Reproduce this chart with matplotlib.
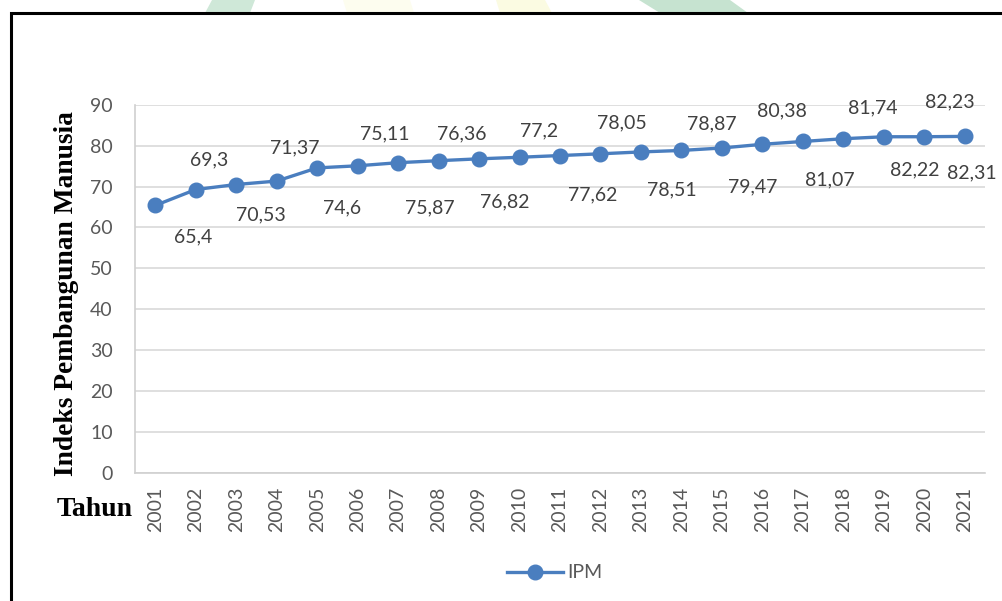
import matplotlib
matplotlib.use("Agg")
import matplotlib.pyplot as plt
from matplotlib.patches import Polygon, Rectangle

# Indeks Pembangunan Manusia (IPM), 2001-2021
years = [str(y) for y in range(2001, 2022)]
ipm = [65.4, 69.3, 70.53, 71.37, 74.6, 75.11, 75.87, 76.36, 76.82, 77.2,
       77.62, 78.05, 78.51, 78.87, 79.47, 80.38, 81.07, 81.74, 82.22, 82.23, 82.31]
value_labels = ["65,4", "69,3", "70,53", "71,37", "74,6", "75,11", "75,87",
                "76,36", "76,82", "77,2", "77,62", "78,05", "78,51", "78,87",
                "79,47", "80,38", "81,07", "81,74", "82,22", "82,23", "82,31"]
yticks = [0, 10, 20, 30, 40, 50, 60, 70, 80, 90]

# hand-placed label offsets (pixels) relative to each point
label_offsets = [(38, -31), (13, 30), (25, -30), (18, 33), (25, -40), (27, 32),
                 (32, -45), (23, 27), (26, -43), (20, 26), (33, -39), (21, 31),
                 (31, -38), (30, 27), (31, -39), (20, 33), (27, -38), (29, 31),
                 (31, -33), (26, 35), (7, -36)]

W, H = 1003, 601
fig = plt.figure(figsize=(W / 100, H / 100), dpi=100)
fig.patch.set_facecolor("white")

# faint letterhead shapes above the frame
shapes = [
    ([(212, 0), (255, 0), (250, 13), (205, 13)], "#cfe8d8"),
    ([(343, 0), (410, 0), (414, 13), (347, 13)], "#fdfdef"),
    ([(496, 0), (545, 0), (552, 13), (500, 13)], "#fbfbe2"),
    ([(639, 0), (730, 0), (748, 13), (660, 13)], "#c6e3d0"),
]
for pts, col in shapes:
    fig.patches.append(Polygon([(x / W, 1 - y / H) for x, y in pts], closed=True,
                               transform=fig.transFigure, facecolor=col,
                               edgecolor="none", zorder=0))

# black frame around the chart (runs past right/bottom edges)
fig.patches.append(Rectangle((11 / W, -0.05), 1.1, 1 - 13 / H + 0.05,
                             transform=fig.transFigure, fill=False,
                             edgecolor="black", linewidth=2.2, zorder=1))

left, right, top, bottom = 135, 985, 105, 472.5
ax = fig.add_axes([left / W, 1 - bottom / H, (right - left) / W, (bottom - top) / H])
ax.set_facecolor("none")

x = list(range(len(years)))
blue = "#4a7ebf"
ax.plot(x, ipm, color=blue, linewidth=2.4, marker="o", markersize=10.5,
        markerfacecolor=blue, markeredgecolor=blue, label="IPM", zorder=3,
        clip_on=False)

for xi, v, txt, (dx, dy) in zip(x, ipm, value_labels, label_offsets):
    ax.annotate(txt, xy=(xi, v), xytext=(dx, dy), textcoords="offset pixels",
                ha="center", va="center", fontsize=14, color="#404040",
                family="Lato")

ax.set_xlim(-0.5, len(years) - 0.5)
ax.set_ylim(0, 90)
ax.set_yticks(yticks)
ax.set_xticks(x)
ax.set_xticklabels(years, rotation=90, fontsize=14, color="#595959", family="Lato")
ax.set_yticklabels([str(t) for t in yticks], fontsize=14, color="#595959", family="Lato")
ax.tick_params(axis="both", length=0)
ax.tick_params(axis="y", pad=16)
ax.tick_params(axis="x", pad=10)

ax.grid(axis="y", color="#d9d9d9", linewidth=1.2)
ax.set_axisbelow(True)
for side in ["top", "right"]:
    ax.spines[side].set_visible(False)
for side in ["left", "bottom"]:
    ax.spines[side].set_color("#d0d0d0")
    ax.spines[side].set_linewidth(1.2)

fig.text(67 / W, 1 - 294 / H, "Indeks Pembangunan Manusia", rotation=90,
         ha="center", va="center", fontsize=19.8, fontweight="bold",
         family="Liberation Serif", color="black")
fig.text(133 / W, 1 - 509 / H, "Tahun", ha="right", va="center", fontsize=20,
         fontweight="bold", family="Liberation Serif", color="black")

leg = fig.legend(loc="center left", bbox_to_anchor=(507 / W, 1 - 573 / H),
                 frameon=False, borderpad=0, borderaxespad=0, handlelength=2.9,
                 handletextpad=0.2, prop={"family": "Lato", "size": 14})
for t in leg.get_texts():
    t.set_color("#595959")

fig.savefig("out.png", dpi=100, facecolor="white")
